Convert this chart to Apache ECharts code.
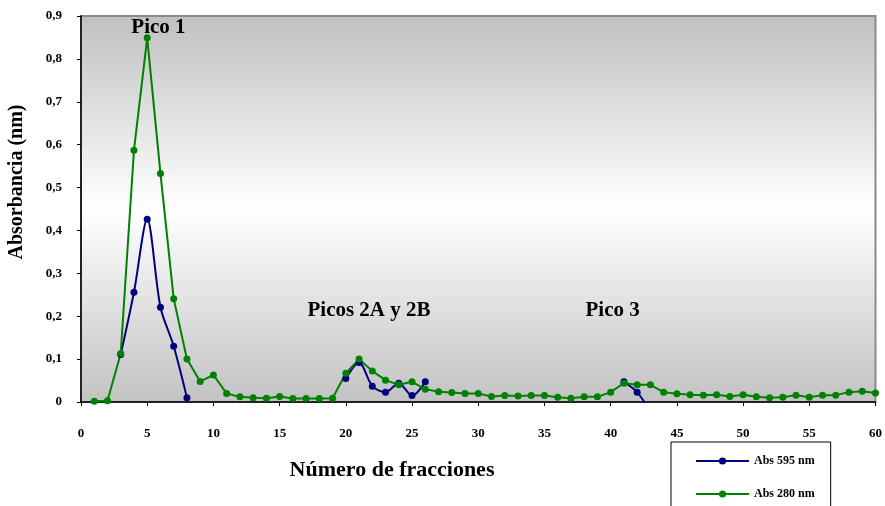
<!DOCTYPE html>
<html>
<head>
<meta charset="utf-8">
<script src="https://cdn.jsdelivr.net/npm/echarts@6/dist/echarts.min.js"></script>
<style>
  html, body { margin: 0; padding: 0; background: #ffffff; }
  #chart { width: 885px; height: 506px; }
</style>
</head>
<body>
<div id="chart"></div>
<script>
// Fraction numbers collected from the column
const fractions = [];
for (let i = 1; i <= 60; i++) fractions.push(i);

// Absorbance at 280 nm for each fraction
const abs280 = [
  0.002, 0.003, 0.113, 0.587, 0.849, 0.533, 0.241, 0.100, 0.048, 0.063,
  0.020, 0.012, 0.010, 0.009, 0.013, 0.008, 0.008, 0.008, 0.009, 0.067,
  0.100, 0.072, 0.051, 0.040, 0.047, 0.030, 0.024, 0.022, 0.020, 0.020,
  0.013, 0.015, 0.014, 0.015, 0.015, 0.011, 0.009, 0.012, 0.012, 0.023,
  0.044, 0.040, 0.040, 0.023, 0.019, 0.017, 0.016, 0.017, 0.013, 0.017,
  0.012, 0.010, 0.011, 0.016, 0.011, 0.016, 0.016, 0.023, 0.025, 0.021
];

// Absorbance at 595 nm (only measured around the peaks)
const abs595 = [
  null, null, 0.111, 0.256, 0.426, 0.221, 0.130, 0.010, null, null,
  null, null, null, null, null, null, null, null, null, 0.055,
  0.092, 0.037, 0.023, 0.044, 0.015, 0.047, null, null, null, null,
  null, null, null, null, null, null, null, null, null, null,
  0.047, 0.023, -0.023, null, null, null, null, null, null, null,
  null, null, null, null, null, null, null, null, null, null
];

// Axis ticks
const yTicks = [0, 0.1, 0.2, 0.3, 0.4, 0.5, 0.6, 0.7, 0.8, 0.9];
const xTicks = [0, 5, 10, 15, 20, 25, 30, 35, 40, 45, 50, 55, 60];

// Peak labels
const peakNames = ['Pico 1', 'Picos 2A y 2B', 'Pico 3'];
const peakAnchors = [[5.85, 0.874], [21.75, 0.214], [40.15, 0.214]];

const seriesNames = ['Abs 595 nm', 'Abs 280 nm'];
const serif = '"Liberation Serif", "Times New Roman", serif';

const pairs = (ys) => fractions.map((x, i) => [x, ys[i]]);

const chart = echarts.init(document.getElementById('chart'), null, { renderer: 'canvas' });

chart.setOption({
  animation: false,
  backgroundColor: '#ffffff',
  textStyle: { fontFamily: serif },
  grid: {
    left: 81, right: 6, top: 16, bottom: 104,
    show: true,
    borderColor: '#8a8a8a',
    borderWidth: 2,
    backgroundColor: new echarts.graphic.LinearGradient(0, 0, 0, 1, [
      { offset: 0, color: '#c0c0c0' },
      { offset: 0.5, color: '#ffffff' },
      { offset: 1, color: '#c2c2c2' }
    ])
  },
  legend: {
    orient: 'vertical',
    left: 671, top: 442,
    height: 80,
    padding: [13, 16, 30, 24],
    itemWidth: 53, itemHeight: 9, itemGap: 21,
    borderColor: '#000000', borderWidth: 1,
    backgroundColor: '#ffffff',
    textStyle: { fontFamily: serif, fontWeight: 'bold', fontSize: 12, color: '#000000' },
    data: seriesNames
  },
  xAxis: {
    type: 'value',
    min: xTicks[0], max: xTicks[xTicks.length - 1], interval: 5,
    axisLine: { show: true, onZero: false, lineStyle: { color: '#000000', width: 1.5 } },
    axisTick: { show: true, length: 4, lineStyle: { color: '#000000' } },
    axisLabel: { margin: 25, fontFamily: serif, fontWeight: 'bold', fontSize: 13, color: '#000000' },
    splitLine: { show: false }
  },
  yAxis: {
    type: 'value',
    min: yTicks[0], max: yTicks[yTicks.length - 1], interval: 0.1,
    axisLine: { show: true, lineStyle: { color: '#000000', width: 1.5 } },
    axisTick: { show: true, length: 4, lineStyle: { color: '#000000' } },
    axisLabel: {
      margin: 19, fontFamily: serif, fontWeight: 'bold', fontSize: 13, color: '#000000',
      formatter: (v) => (v === 0 ? '0' : v.toFixed(1).replace('.', ','))
    },
    splitLine: { show: false }
  },
  graphic: [
    {
      type: 'text', x: 392, y: 470,
      style: {
        text: 'Número de fracciones', x: 0, y: 0,
        align: 'center', verticalAlign: 'middle',
        font: 'bold 22px ' + serif, fill: '#000000'
      }
    },
    {
      type: 'text', x: 17, y: 182, rotation: Math.PI / 2,
      style: {
        text: 'Absorbancia (nm)', x: 0, y: 0,
        align: 'center', verticalAlign: 'middle',
        font: 'bold 20px ' + serif, fill: '#000000'
      }
    }
  ],
  series: [
    {
      name: seriesNames[0],
      type: 'line',
      data: pairs(abs595),
      smooth: 0.3,
      connectNulls: false,
      clip: true,
      symbol: 'circle', symbolSize: 7,
      itemStyle: { color: '#000080' },
      lineStyle: { color: '#000080', width: 2 }
    },
    {
      name: seriesNames[1],
      type: 'line',
      data: pairs(abs280),
      smooth: false,
      clip: true,
      symbol: 'circle', symbolSize: 7,
      itemStyle: { color: '#008000' },
      lineStyle: { color: '#008000', width: 2 },
      markPoint: {
        symbol: 'circle', symbolSize: 1,
        itemStyle: { color: 'transparent' },
        label: {
          show: true, position: 'inside',
          fontFamily: serif, fontWeight: 'bold', fontSize: 21, color: '#000000',
          formatter: (p) => p.name
        },
        data: peakNames.map((n, i) => ({ name: n, coord: peakAnchors[i] }))
      }
    }
  ]
});
</script>
</body>
</html>
